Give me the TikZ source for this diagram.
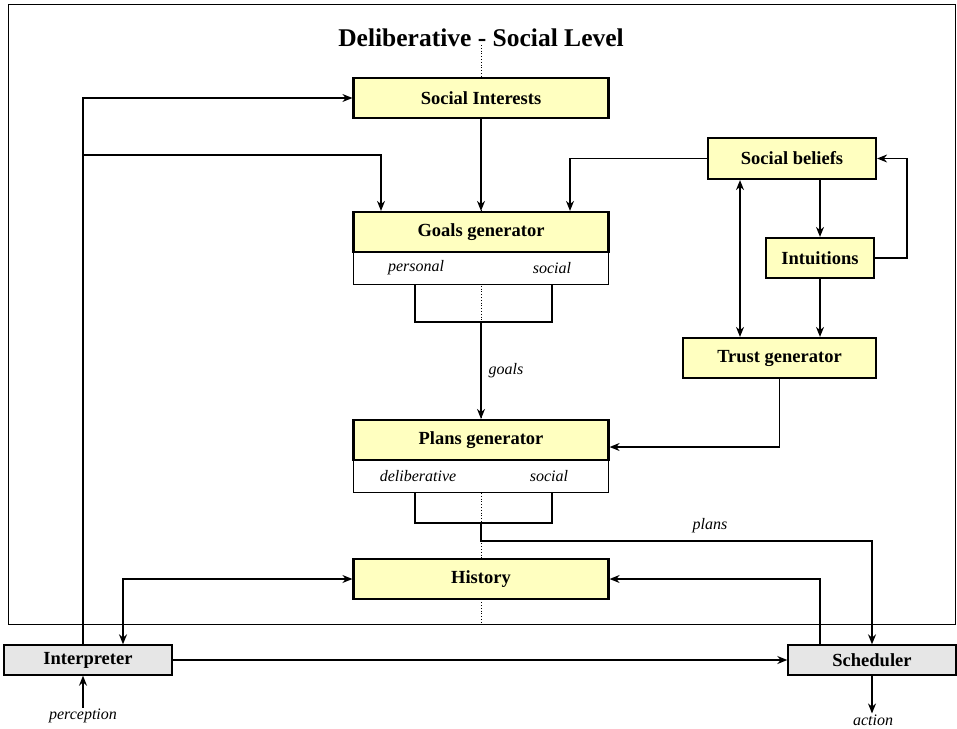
\documentclass[tikz,border=0pt]{standalone}
\usepackage{fontspec}
\setmainfont{Liberation Serif}
\usetikzlibrary{arrows.meta,calc}
\definecolor{boxyellow}{RGB}{255,255,192}
\definecolor{boxgray}{RGB}{230,230,230}
\begin{document}
\begin{tikzpicture}[x=1pt,y=-1pt,
  ybox/.style={draw,line width=2.2pt,fill=boxyellow,minimum height=40pt,inner sep=0pt,
    font=\fontsize{18.5}{20}\selectfont\bfseries},
  gbox/.style={draw,line width=1.4pt,fill=boxgray,minimum width=168pt,minimum height=30pt,inner sep=0pt,
    font=\fontsize{18.5}{20}\selectfont\bfseries},
  subbox/.style={draw,line width=1pt,fill=white,minimum width=255pt,minimum height=32pt,inner sep=0pt},
  lbl/.style={font=\fontsize{16}{18}\selectfont\itshape,inner sep=1pt},
  arr/.style={line width=1.3pt,-{Stealth[length=10pt,width=8pt]}},
  darr/.style={line width=1.3pt,{Stealth[length=10pt,width=8pt]}-{Stealth[length=10pt,width=8pt]}},
  ln/.style={line width=1.3pt}]
\useasboundingbox (0,0) rectangle (957,728);
\draw[line width=0.8pt] (8,4) rectangle (955,624);
\draw[dotted,line width=0.8pt] (481,45) -- (481,624);
\node[font=\fontsize{25.5}{30}\selectfont\bfseries] (title) at (481,38) {Deliberative - Social Level};
% central column
\node[ybox,minimum width=255pt] (socint) at (481,98) {Social Interests};
\node[ybox,minimum width=255pt] (goals) at (481,232) {Goals generator};
\node[subbox] (goalsub) at (481,268) {};
\node[lbl] (pers) at (416,268) {personal};
\node[lbl] (gsoc) at (552,268) {social};
\node[ybox,minimum width=255pt] (plans) at (481,440) {Plans generator};
\node[subbox] (plansub) at (481,476) {};
\node[lbl] (delib) at (418,476) {deliberative};
\node[lbl] (psoc) at (549,476) {social};
\node[ybox,minimum width=255pt] (hist) at (481,579) {History};
% right column
\node[ybox,minimum width=168pt,minimum height=41pt] (sbel) at (792,158.5) {Social beliefs};
\node[ybox,minimum width=108pt] (intu) at (820,258) {Intuitions};
\node[ybox,minimum width=193pt] (trust) at (779.5,358) {Trust generator};
% bottom
\node[gbox] (interp) at (88,660) {Interpreter};
\node[gbox] (sched) at (872,660) {Scheduler};
\node[lbl] (perc) at (83,716) {perception};
\node[lbl] (act) at (873,720) {action};
% brackets
\coordinate (gj) at (481,322);
\coordinate (pj) at (481,523);
\draw[ln] (415,284) |- (gj) -| (552,284);
\draw[ln] (415,492) |- (pj) -| (552,492);
% connectors
\coordinate (br) at (83,155);
\draw[arr] ([xshift=-5pt]interp.north) |- (socint.west);
\draw[arr] (br) -| ([xshift=-100pt]goals.north);
\draw[arr] (socint) -- (goals);
\draw[arr] (sbel.west) -| ([xshift=89pt]goals.north);
\draw[arr] ([xshift=28pt]sbel.south) -- (intu.north);
\draw[arr] (intu.east) -- ++(32,0) |- (sbel.east);
\draw[darr] ([xshift=-52pt]sbel.south) -- ([xshift=-52pt]sbel.south |- trust.north);
\draw[arr] (intu.south) -- (intu.south |- trust.north);
\draw[arr] (trust.south) |- ([yshift=-7pt]plans.east);
\draw[arr] (gj) -- node[lbl,right=6pt] {goals} (plans.north);
\draw[arr] (pj) -- (481,541) -| (sched.north);
\node[lbl] (plbl) at (710,526) {plans};
\draw[darr] (hist.west) -| ([xshift=35pt]interp.north);
\draw[arr] ([xshift=-52pt]sched.north) |- (hist.east);
\draw[arr] (interp.east) -- (sched.west);
\draw[arr] (perc.north) -- ([xshift=-5pt]interp.south);
\draw[arr] (sched.south) -- (sched.south |- act.north);
\end{tikzpicture}
\end{document}
